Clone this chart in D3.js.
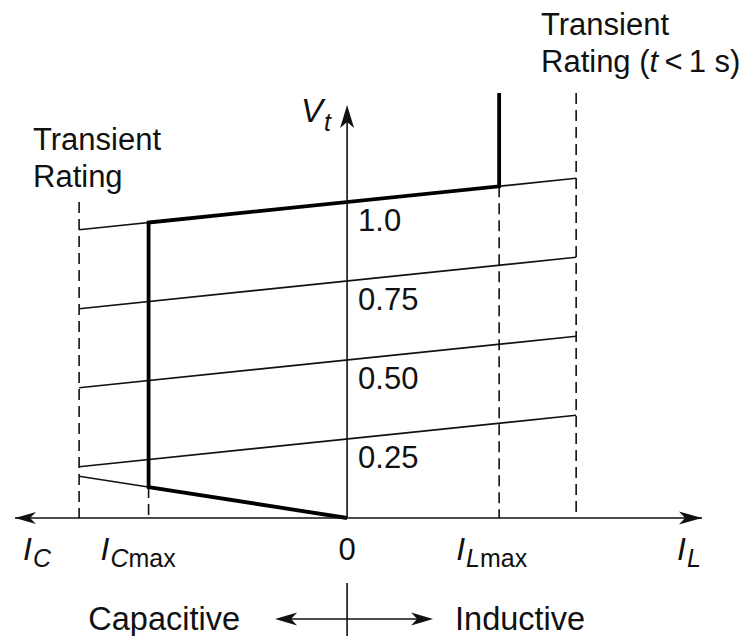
<!DOCTYPE html>
<html>
<head>
<meta charset="utf-8">
<script src="https://cdn.jsdelivr.net/npm/d3@7"></script>
<style>
  html, body { margin: 0; padding: 0; background: #fff; }
  svg { display: block; }
  text { font-family: "Liberation Sans", Arial, Helvetica, sans-serif; fill: #111; }
</style>
</head>
<body>
<div id="chart"></div>
<script>
// ---- Data (per-unit current on the horizontal axis, per-unit terminal voltage vertically) ----
const currentExtent = [-1.673, 1.788];      // ends of the I axis (capacitive < 0 < inductive)
const iTransientC = -1.35;                  // capacitive transient rating
const iCmax = -1.0;                         // maximum continuous capacitive current
const iLmax = 0.766;                        // maximum continuous inductive current
const iTransientL = 1.154;                  // inductive transient rating (t < 1 s)

const vrefLevels = [1.0, 0.75, 0.50, 0.25]; // reference voltage of each control characteristic
const vrefLabels = ["1.0", "0.75", "0.50", "0.25"];
const slopeReactance = 0.065;               // slope of the characteristics (p.u. V per p.u. I)
const capLimitSlope = 0.098;                // capacitor-limit line through the origin: V = -k·I

const voltageExtent = [0, 1.307];           // V axis from origin to arrow tip
const vTransientTop = 1.345;                // top of the I_Lmax limit and transient verticals
const vLeftDashTop = 1.0;                   // top of the capacitive transient boundary

// ---- Layout ----
const W = 754, H = 636;
const svg = d3.select("#chart").append("svg").attr("width", W).attr("height", H);

const x = d3.scaleLinear().domain(currentExtent).range([15, 702]);
const y = d3.scaleLinear().domain([0, 1]).range([518, 202]);

const ink = "#111";
const thin = 1.6, thick = 3.8;
const line = d3.line().x(d => x(d[0])).y(d => y(d[1]));
const vChar = (vref, i) => vref + slopeReactance * i;
const vCap = i => -capLimitSlope * i;

// Barbed arrowhead pointing along (dx, dy)
function arrowHead(g, tipX, tipY, dx, dy, len = 22, half = 6.5, notch = 6) {
  const px = -dy, py = dx;
  const bx = tipX - dx * len, by = tipY - dy * len;
  const nx = tipX - dx * (len - notch), ny = tipY - dy * (len - notch);
  g.append("path")
    .attr("d", `M${tipX},${tipY}L${bx + px * half},${by + py * half}L${nx},${ny}L${bx - px * half},${by - py * half}Z`)
    .attr("fill", ink);
}

// ---- Dashed rating boundaries ----
const dashes = [
  { i: iTransientC, top: vLeftDashTop },
  { i: iCmax, top: vCap(iCmax) },
  { i: iLmax, top: vChar(1.0, iLmax) },
  { i: iTransientL, top: vTransientTop }
];
svg.append("g").selectAll("path").data(dashes).join("path")
  .attr("d", d => line([[d.i, d.top], [d.i, 0]]))
  .attr("fill", "none").attr("stroke", ink).attr("stroke-width", thin)
  .attr("stroke-dasharray", "11,6");

// ---- Control characteristics ----
svg.append("g").selectAll("path").data(vrefLevels).join("path")
  .attr("d", v => line([[iTransientC, vChar(v, iTransientC)], [iTransientL, vChar(v, iTransientL)]]))
  .attr("fill", "none").attr("stroke", ink).attr("stroke-width", thin);

// Capacitor limit line (thin beyond I_Cmax)
svg.append("path")
  .attr("d", line([[iTransientC, vCap(iTransientC)], [0, 0]]))
  .attr("fill", "none").attr("stroke", ink).attr("stroke-width", thin);

// Labels under each characteristic, right of the V axis
svg.append("g").selectAll("text").data(vrefLevels).join("text")
  .attr("x", x(0) + 11)
  .attr("y", v => y(vChar(v, 0)) + 29)
  .attr("font-size", 31)
  .text((v, k) => vrefLabels[k]);

// ---- Operating envelope at Vref = 1.0 ----
svg.append("path")
  .attr("d", line([
    [0, 0],
    [iCmax, vCap(iCmax)],
    [iCmax, vChar(1.0, iCmax)],
    [iLmax, vChar(1.0, iLmax)],
    [iLmax, vTransientTop]
  ]))
  .attr("fill", "none").attr("stroke", "#000").attr("stroke-width", thick)
  .attr("stroke-linejoin", "miter");

// ---- Axes ----
const axes = svg.append("g");
axes.append("path")
  .attr("d", line([[currentExtent[0], 0], [currentExtent[1], 0]]))
  .attr("stroke", ink).attr("stroke-width", 1.6).attr("fill", "none");
arrowHead(axes, x(currentExtent[0]), y(0), -1, 0, 21, 6);
arrowHead(axes, x(currentExtent[1]), y(0), 1, 0, 23, 6.5);

axes.append("path")
  .attr("d", line([[0, voltageExtent[0]], [0, voltageExtent[1] - 0.05]]))
  .attr("stroke", ink).attr("stroke-width", 1.6).attr("fill", "none");
arrowHead(axes, x(0), y(voltageExtent[1]), 0, -1, 23, 7, 6);

// V_t label
const vt = svg.append("text").attr("x", x(0) - 46).attr("y", y(voltageExtent[1]) + 17).attr("font-size", 33);
vt.append("tspan").attr("font-style", "italic").text("V");
vt.append("tspan").attr("font-style", "italic").attr("font-size", 25).attr("dy", 9).attr("dx", 1).text("t");

// ---- Current axis labels ----
const tickLabels = [
  { at: currentExtent[0], dx: 8,   main: "I", sub: "C", extra: "" },
  { at: iCmax,            dx: -48, main: "I", sub: "C", extra: "max" },
  { at: iLmax,            dx: -43, main: "I", sub: "L", extra: "max" },
  { at: currentExtent[1], dx: -25, main: "I", sub: "L", extra: "" }
];
const tl = svg.append("g").selectAll("text").data(tickLabels).join("text")
  .attr("x", d => x(d.at) + d.dx)
  .attr("y", y(0) + 42)
  .attr("font-size", 32);
tl.append("tspan").attr("font-style", "italic").text(d => d.main);
tl.append("tspan").attr("font-style", "italic").attr("font-size", 25).attr("dy", 7).attr("dx", 1).text(d => d.sub);
tl.append("tspan").attr("font-size", 25).text(d => d.extra);

svg.append("text").attr("x", x(0)).attr("y", y(0) + 42)
  .attr("text-anchor", "middle").attr("font-size", 31).text("0");

// ---- Rating annotations ----
const leftNote = svg.append("text").attr("font-size", 31);
leftNote.append("tspan").attr("x", 33).attr("y", 150).text("Transient");
leftNote.append("tspan").attr("x", 33).attr("y", 187).text("Rating");

const rightNote = svg.append("text").attr("font-size", 31);
rightNote.append("tspan").attr("x", 541).attr("y", 35).text("Transient");
const r2 = rightNote.append("tspan").attr("x", 541).attr("y", 72);
r2.append("tspan").text("Rating (");
r2.append("tspan").attr("font-style", "italic").text("t");
r2.append("tspan").text("\u2009<\u20091 s)");

// ---- Capacitive / Inductive direction indicator ----
const dirY = 619;
const ind = svg.append("g");
ind.append("line").attr("x1", x(0)).attr("x2", x(0)).attr("y1", 583).attr("y2", H)
  .attr("stroke", ink).attr("stroke-width", 1.6);
ind.append("line").attr("x1", x(0) - 60).attr("x2", x(0) + 70).attr("y1", dirY).attr("y2", dirY)
  .attr("stroke", ink).attr("stroke-width", 1.6);
arrowHead(ind, x(0) - 72, dirY, -1, 0, 22, 6.5);
arrowHead(ind, x(0) + 86, dirY, 1, 0, 22, 6.5);
svg.append("text").attr("x", x(0) - 107).attr("y", 630).attr("text-anchor", "end")
  .attr("font-size", 32.5).text("Capacitive");
svg.append("text").attr("x", x(0) + 108).attr("y", 630)
  .attr("font-size", 32.5).text("Inductive");
</script>
</body>
</html>
